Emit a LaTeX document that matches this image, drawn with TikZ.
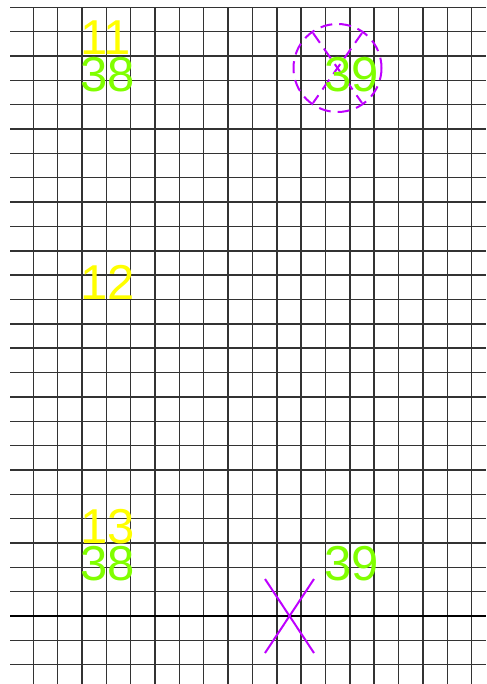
\documentclass[tikz,border=0pt]{standalone}
\usepackage{fontspec}
\setmainfont{Liberation Sans}
\definecolor{markyellow}{RGB}{255,255,0}
\definecolor{markgreen}{RGB}{128,255,0}
\definecolor{markviolet}{RGB}{190,0,255}
\tikzset{
  gridline/.style={line width=1.1pt, color=black!80},
  numlabel/.style={anchor=base west, inner sep=0pt, font=\fontsize{36.75}{44}\selectfont},
  crossline/.style={color=markviolet, line width=1.5pt},
  dashmark/.style={crossline, dash pattern={on 9pt off 5.25pt}}
}
\begin{document}
\begin{tikzpicture}[x=0.75pt,y=0.75pt,yscale=-1,xscale=1]
\useasboundingbox (0,0) rectangle (486,684);

%Grid: vertical lines
\foreach \j in {0,...,18}
  \draw [gridline] ({33.3+24.35*\j},7.3) -- ({33.3+24.35*\j},684) ;
%Grid: horizontal lines
\foreach \k in {0,...,27}
  \draw [gridline] (10,{7.3+24.35*\k}) -- (486,{7.3+24.35*\k}) ;
%Straight Lines (thick)
\draw [line width=1.8pt] (10,616) -- (486,616) ;

%Shape: Circle (dashed)
\draw [dashmark] (337.5,68) circle [radius=33pt] ;
%Straight Lines (dashed cross)
\draw [dashmark] (313,33) -- (362,103) ;
\draw [dashmark] (362,33) -- (313,103) ;
%Straight Lines (cross)
\draw [crossline] (265,579) -- (314,653) ;
\draw [crossline] (314,579) -- (265,653) ;

% Text Node
\node [numlabel, text=markyellow] (t11) at (80,55) {11};
% Text Node
\node [numlabel, text=markgreen] (t38a) at (80,92) {38};
% Text Node
\node [numlabel, text=markgreen] (t39a) at (324,92) {39};
% Text Node
\node [numlabel, text=markyellow] (t12) at (80,299) {12};
% Text Node
\node [numlabel, text=markyellow] (t13) at (80,543) {13};
% Text Node
\node [numlabel, text=markgreen] (t38b) at (80,580) {38};
% Text Node
\node [numlabel, text=markgreen] (t39b) at (324,580) {39};

\end{tikzpicture}
\end{document}
